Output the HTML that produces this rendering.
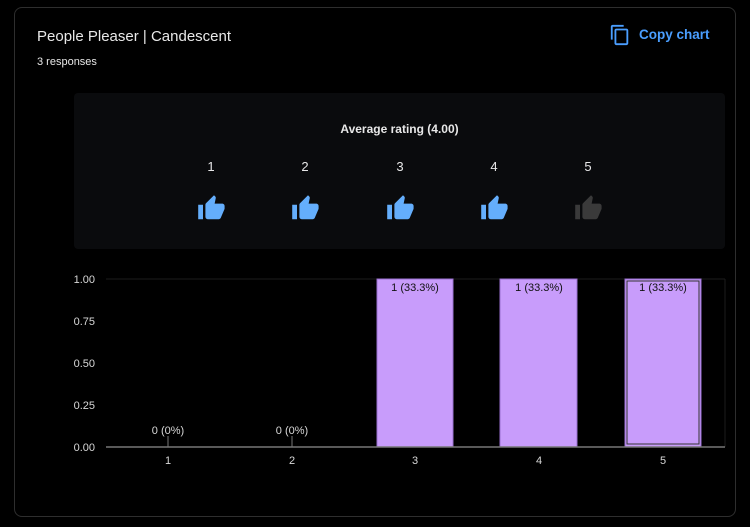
<!DOCTYPE html>
<html><head><style>
body{margin:0;background:#000;width:750px;height:527px;overflow:hidden;font-family:"Liberation Sans",sans-serif;}
.card{position:absolute;left:14px;top:7px;width:720px;height:508px;border:1px solid #2e2e2e;border-radius:8px;}
.t{position:absolute;color:#e8e8e8;}
</style></head><body>
<div class="card"></div>
<div class="t" style="left:37px;top:28px;font-size:15px;">People Pleaser | Candescent</div>
<div class="t" style="left:37px;top:56px;font-size:11px;">3 responses</div>
<svg style="position:absolute;left:609px;top:24px" width="22" height="22" viewBox="0 0 24 24"><path fill="#4a9eff" d="M16 1H4c-1.1 0-2 .9-2 2v14h2V3h12V1zm3 4H8c-1.1 0-2 .9-2 2v14c0 1.1.9 2 2 2h11c1.1 0 2-.9 2-2V7c0-1.1-.9-2-2-2zm0 16H8V7h11v14z"/></svg>
<div class="t" style="left:639px;top:27px;font-size:13.5px;color:#4a9eff;font-weight:bold;">Copy chart</div>
<div style="position:absolute;left:74px;top:93px;width:651px;height:156px;background:#0a0b0d;border-radius:4px;"></div>
<div class="t" style="left:74px;width:651px;text-align:center;top:122px;font-size:12px;font-weight:bold;">Average rating (4.00)</div>
<svg style="position:absolute;left:0;top:0" width="750" height="527">
<defs><path id="th" d="M1 21h4V9H1v12zm22-11c0-1.1-.9-2-2-2h-6.31l.95-4.57.03-.32c0-.41-.17-.79-.44-1.06L14.17 1 7.59 7.59C7.22 7.95 7 8.45 7 9v10c0 1.1.9 2 2 2h9c.83 0 1.54-.5 1.84-1.22l3.02-7.05c.09-.23.14-.47.14-.73v-2z"/></defs>
<g font-size="13" fill="#e8e8e8" text-anchor="middle">
<text x="211" y="171">1</text><text x="305" y="171">2</text><text x="400" y="171">3</text><text x="494" y="171">4</text><text x="588" y="171">5</text></g>
<use href="#th" fill="#64aefc" transform="translate(197,194) scale(1.2)"/>
<use href="#th" fill="#64aefc" transform="translate(291,194) scale(1.2)"/>
<use href="#th" fill="#64aefc" transform="translate(386,194) scale(1.2)"/>
<use href="#th" fill="#64aefc" transform="translate(480,194) scale(1.2)"/>
<use href="#th" fill="#3a3a3a" transform="translate(574,194) scale(1.2)"/>
<line x1="106" y1="279" x2="725" y2="279" stroke="#1c1c1c"/>
<line x1="725" y1="279" x2="725" y2="447" stroke="#1c1c1c"/>
<rect x="377" y="279" width="76" height="168" fill="#c89cfb" stroke="#9a70d0"/>
<rect x="500" y="279" width="77" height="168" fill="#c89cfb" stroke="#9a70d0"/>
<rect x="625" y="279" width="76" height="168" fill="#c89cfb" stroke="#9a70d0"/>
<rect x="627" y="281" width="72" height="163" fill="none" stroke="#333" stroke-width="1"/>
<line x1="106" y1="447" x2="725" y2="447" stroke="#777" stroke-width="1.5"/>
<line x1="168" y1="436" x2="168" y2="447" stroke="#777"/><line x1="292" y1="436" x2="292" y2="447" stroke="#777"/>
<g font-size="11" fill="#d8d8d8" text-anchor="end">
<text x="95" y="283">1.00</text><text x="95" y="325">0.75</text><text x="95" y="367">0.50</text><text x="95" y="409">0.25</text><text x="95" y="451">0.00</text></g>
<g font-size="11" fill="#d8d8d8" text-anchor="middle">
<text x="168" y="464">1</text><text x="292" y="464">2</text><text x="415" y="464">3</text><text x="539" y="464">4</text><text x="663" y="464">5</text>
<text x="168" y="434">0 (0%)</text><text x="292" y="434">0 (0%)</text></g>
<g font-size="11" fill="#111" text-anchor="middle">
<text x="415" y="291">1 (33.3%)</text><text x="539" y="291">1 (33.3%)</text><text x="663" y="291">1 (33.3%)</text></g>
</svg>
</body></html>
